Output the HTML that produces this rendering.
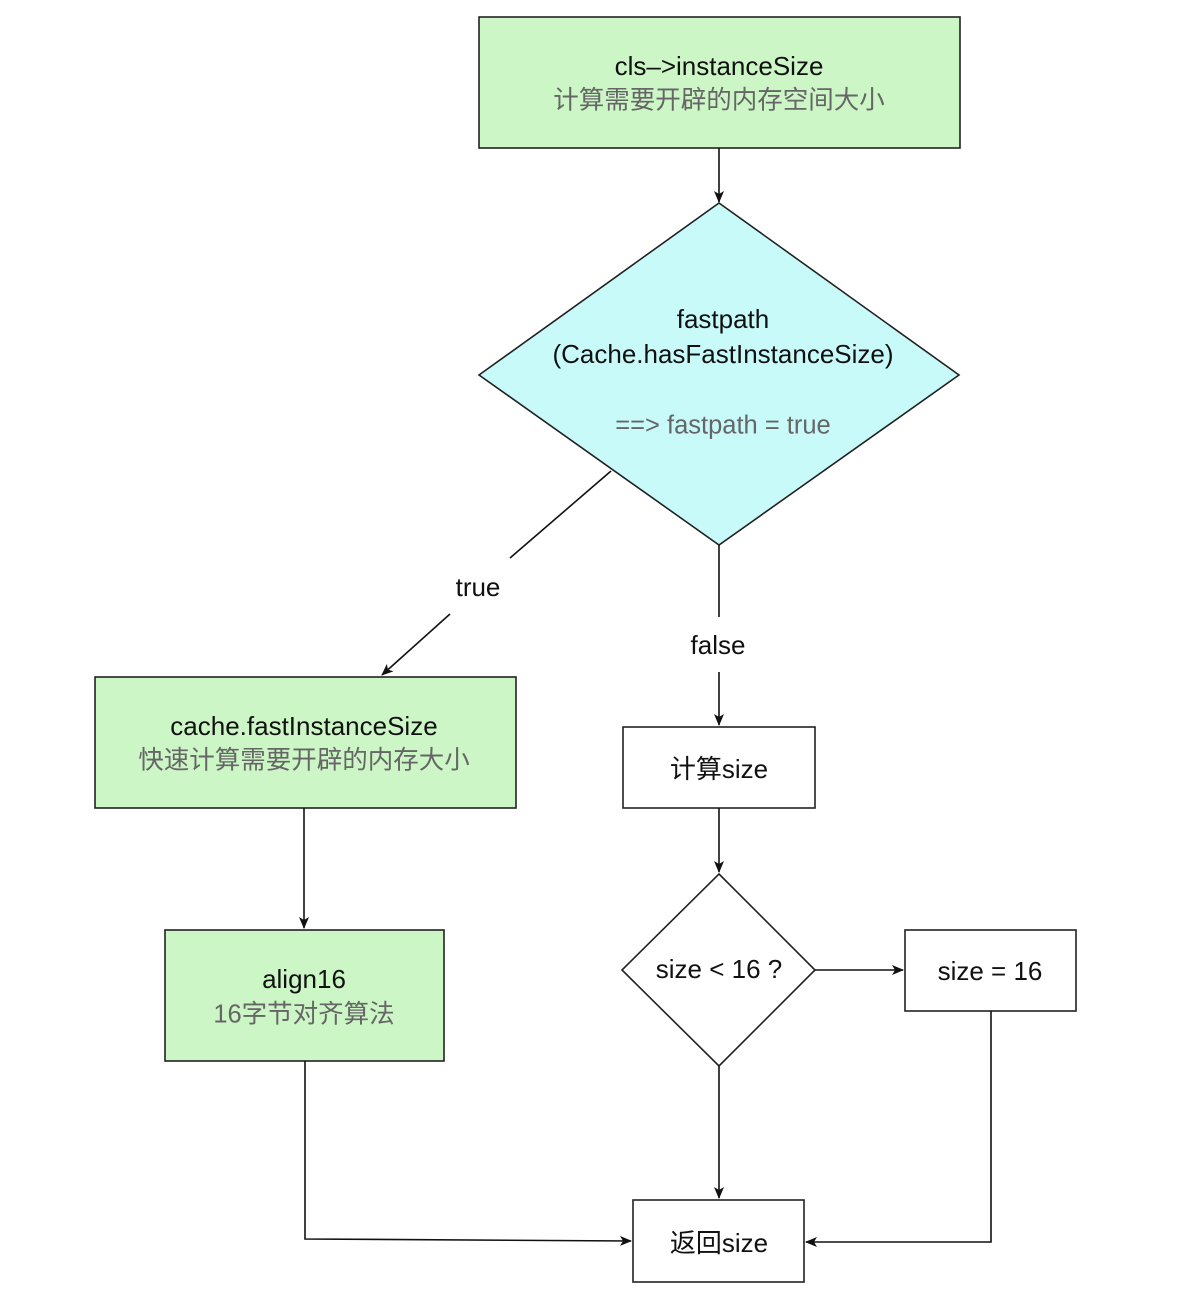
<!DOCTYPE html>
<html><head><meta charset="utf-8"><style>
html,body{margin:0;padding:0;background:#fff;width:1190px;height:1298px;overflow:hidden}
text{font-family:"Liberation Sans","Noto Sans CJK SC",sans-serif;font-size:26px;text-anchor:middle;dominant-baseline:middle;fill:#111}
.g{fill:#666;font-size:25.5px}
</style></head><body>
<svg width="1190" height="1298" viewBox="0 0 1190 1298">
<defs><marker id="a" markerWidth="12" markerHeight="10" refX="11" refY="5" orient="auto" markerUnits="userSpaceOnUse"><path d="M0,0 L12,5 L0,10 L3,5 Z" fill="#111"/></marker></defs>
<g stroke="#222" stroke-width="1.6">
<rect x="479" y="17" width="481" height="131" fill="#ccf6c6"/>
<polygon points="719,203 959,375 719,545 479,375" fill="#c8fafa"/>
<rect x="95" y="677" width="421" height="131" fill="#ccf6c6"/>
<rect x="165" y="930" width="279" height="131" fill="#ccf6c6"/>
<rect x="623" y="727" width="192" height="81" fill="#fff"/>
<polygon points="719,874 815,970 719,1066 622,970" fill="#fff"/>
<rect x="905" y="930" width="171" height="81" fill="#fff"/>
<rect x="633" y="1200" width="171" height="82" fill="#fff"/>
</g>
<g stroke="#111" stroke-width="1.6" fill="none">
<line x1="719" y1="148" x2="719" y2="202" marker-end="url(#a)"/>
<line x1="611" y1="471" x2="510" y2="558"/>
<line x1="450" y1="614" x2="382" y2="675" marker-end="url(#a)"/>
<line x1="719" y1="545" x2="719" y2="617"/>
<line x1="719" y1="672" x2="719" y2="725" marker-end="url(#a)"/>
<line x1="304" y1="808" x2="304" y2="928" marker-end="url(#a)"/>
<line x1="719" y1="808" x2="719" y2="872" marker-end="url(#a)"/>
<line x1="815" y1="970" x2="903" y2="970" marker-end="url(#a)"/>
<line x1="719" y1="1066" x2="719" y2="1198" marker-end="url(#a)"/>
<polyline points="305,1061 305,1239 631,1241" marker-end="url(#a)"/>
<polyline points="991,1011 991,1242 806,1242" marker-end="url(#a)"/>
</g>
<text x="719" y="68">cls–&gt;instanceSize</text>
<text x="719" y="102" class="g">计算需要开辟的内存空间大小</text>
<text x="723" y="321">fastpath</text>
<text x="723" y="356">(Cache.hasFastInstanceSize)</text>
<text x="723" y="427" class="g">==&gt; fastpath = true</text>
<text x="478" y="589">true</text>
<text x="718" y="647">false</text>
<text x="304" y="728">cache.fastInstanceSize</text>
<text x="304" y="762" class="g">快速计算需要开辟的内存大小</text>
<text x="304" y="981">align16</text>
<text x="304" y="1016" class="g">16字节对齐算法</text>
<text x="719" y="771">计算size</text>
<text x="719" y="971">size &lt; 16 ?</text>
<text x="990" y="973">size = 16</text>
<text x="719" y="1245">返回size</text>
</svg>
</body></html>
